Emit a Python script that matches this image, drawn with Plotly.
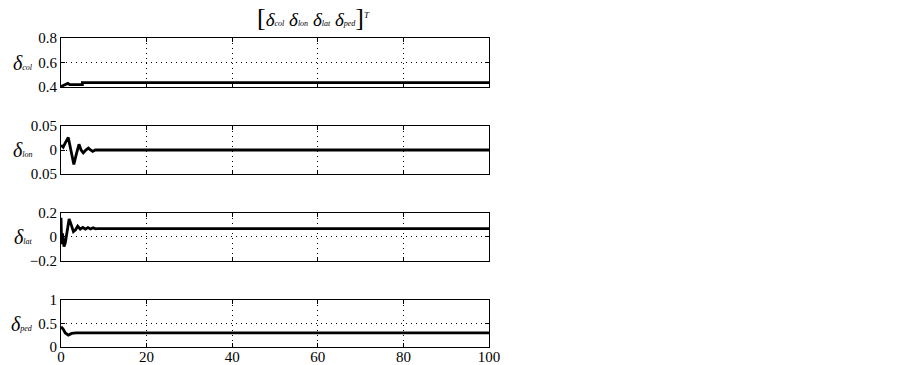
import plotly.graph_objects as go

# ---- data ----
t_col = [0, 0.3, 0.8, 1.2, 1.6, 2.0, 5.0, 5.0, 100]
v_col = [0.405, 0.41, 0.415, 0.425, 0.43, 0.42, 0.42, 0.437, 0.437]

t_lon = [0, 0.5, 1.0, 1.7, 2.3, 3.0, 3.6, 4.2, 4.7, 5.2, 5.8, 6.4, 6.9, 7.4, 8.0, 8.5, 100]
v_lon = [0.01, 0.006, 0.015, 0.026, 0.0, -0.03, -0.008, 0.012, 0.0, -0.006, 0.0, 0.004, 0.0, -0.003, 0.0, 0.0, 0.0]

t_lat = [0, 0.15, 0.35, 0.7, 1.0, 1.4, 1.9, 2.4, 2.9, 3.4, 3.9, 4.5, 5.1, 5.7, 6.3, 6.9, 7.5, 8.1, 8.5, 100]
v_lat = [0.16, -0.06, 0.03, -0.08, -0.05, 0.06, 0.15, 0.1, 0.045, 0.06, 0.09, 0.065, 0.08, 0.065, 0.078, 0.066, 0.076, 0.068, 0.07, 0.07]

t_ped = [0, 0.5, 1.0, 1.7, 2.5, 3.5, 100]
v_ped = [0.43, 0.38, 0.3, 0.255, 0.29, 0.3, 0.3]

x_ticks = [0, 20, 40, 60, 80, 100]
panels = [
    dict(t=t_col, v=v_col, rng=[0.4, 0.8], tv=[0.4, 0.6, 0.8], tt=["0.4", "0.6", "0.8"], sub="col", dom=[0.841, 1.0]),
    dict(t=t_lon, v=v_lon, rng=[-0.05, 0.05], tv=[-0.05, 0, 0.05], tt=["0.05", "0", "0.05"], sub="lon", dom=[0.560, 0.715]),
    dict(t=t_lat, v=v_lat, rng=[-0.2, 0.2], tv=[-0.2, 0, 0.2], tt=["\u22120.2", "0", "0.2"], sub="lat", dom=[0.278, 0.434]),
    dict(t=t_ped, v=v_ped, rng=[0, 1], tv=[0, 0.5, 1], tt=["0", "0.5", "1"], sub="ped", dom=[0.0, 0.152]),
]

FONT = "Liberation Serif, Times New Roman, serif"
SUB = "<span style='font-size:8px;color:black'><i>%s</i></span>"
fig = go.Figure()
layout = dict(
    width=903, height=365,
    margin=dict(l=61, r=414, t=38, b=18, autoexpand=False),
    paper_bgcolor="white", plot_bgcolor="white",
    showlegend=False,
    font=dict(family=FONT, size=15, color="black"),
)
annotations = []
for i, p in enumerate(panels):
    n = "" if i == 0 else str(i + 1)
    fig.add_trace(go.Scatter(x=p["t"], y=p["v"], mode="lines",
                             line=dict(color="black", width=2.8),
                             xaxis="x" + n, yaxis="y" + n, hoverinfo="skip"))
    common = dict(showline=True, mirror="ticks", linecolor="black", linewidth=1,
                  ticks="inside", ticklen=4, tickcolor="black", tickwidth=1,
                  showgrid=True, gridcolor="black", griddash="1px,4px", gridwidth=1,
                  zeroline=False, automargin=False,
                  tickfont=dict(family=FONT, size=15, color="black"))
    layout["xaxis" + n] = dict(common, range=[0, 100], tickvals=x_ticks,
                               showticklabels=(i == 3), anchor="y" + n,
                               domain=[0, 1], ticklabelstandoff=-4)
    if i > 0:
        layout["xaxis" + n]["matches"] = "x"
    layout["yaxis" + n] = dict(common, range=p["rng"], tickvals=p["tv"], ticktext=p["tt"],
                               domain=p["dom"], anchor="x" + n)
    annotations.append(dict(
        xref="paper", yref="y" + n, x=-0.06, y=(p["rng"][0] + p["rng"][1]) / 2,
        xanchor="right", yanchor="middle", showarrow=False,
        text="<i>\u03b4</i>" + SUB % p["sub"],
        font=dict(family=FONT, size=20, color="black"),
    ))

annotations.append(dict(
    xref="paper", yref="paper", x=0.59, y=1.0, yshift=21, xanchor="center", yanchor="middle",
    showarrow=False,
    text=("<span style='font-size:26px'>[</span>"
          "<i>\u03b4</i>" + SUB % "col" + " "
          "<i>\u03b4</i>" + SUB % "lon" + " "
          "<i>\u03b4</i>" + SUB % "lat" + " "
          "<i>\u03b4</i>" + SUB % "ped" +
          "<span style='font-size:26px'>]</span><sup><span style='font-size:9px;color:black'><i>T</i></span></sup>"),
    font=dict(family=FONT, size=19, color="black"),
))
layout["annotations"] = annotations
fig.update_layout(**layout)
# remove the page's default body margin so the figure fills the window exactly
fig.write_html("out.html", config={"displayModeBar": False},
               post_script="document.body.style.margin='0';")
